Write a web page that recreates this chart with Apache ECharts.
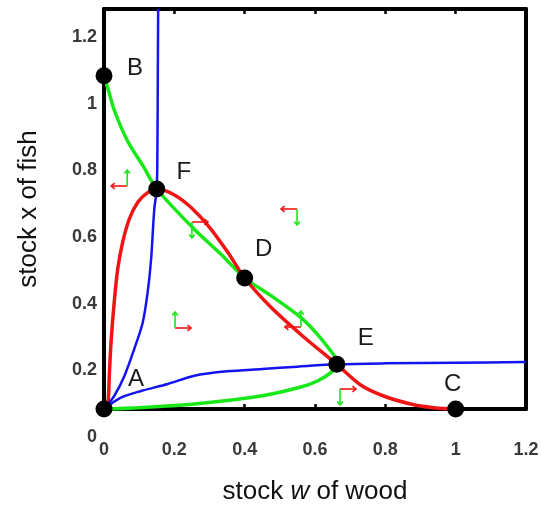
<!DOCTYPE html>
<html>
<head>
<meta charset="utf-8">
<script src="https://cdn.jsdelivr.net/npm/echarts@6/dist/echarts.min.js"></script>
<style>
  html, body { margin: 0; padding: 0; background: #fff; }
  #chart { width: 541px; height: 508px; }
</style>
</head>
<body>
<div id="chart"></div>
<script>
// Curves in the (wood w, fish x) plane, each as [w, x] pairs
const redCurve = [
  [0, 0], [0.011, 0.02], [0.015, 0.1], [0.02, 0.2], [0.029, 0.32], [0.039, 0.42],
  [0.053, 0.5], [0.072, 0.57], [0.096, 0.62], [0.124, 0.649], [0.15, 0.66],
  [0.199, 0.643], [0.247, 0.605], [0.3, 0.545], [0.352, 0.47], [0.4, 0.393],
  [0.474, 0.306], [0.568, 0.216], [0.662, 0.134], [0.73, 0.072], [0.795, 0.039],
  [0.872, 0.015], [0.943, 0.003], [1, 0]
];
const greenCurve = [
  [0, 1], [0.011, 0.962], [0.03, 0.894], [0.067, 0.804], [0.114, 0.724], [0.15, 0.66],
  [0.256, 0.54], [0.332, 0.465], [0.4, 0.393], [0.475, 0.34], [0.56, 0.274],
  [0.607, 0.224], [0.645, 0.174], [0.659, 0.153], [0.662, 0.134], [0.645, 0.109],
  [0.607, 0.084], [0.56, 0.066], [0.446, 0.039], [0.256, 0.015], [0.1, 0.004], [0, 0]
];
const blueCurveSteep = [
  [0, 0], [0.029, 0.039], [0.058, 0.099], [0.086, 0.18], [0.11, 0.259], [0.124, 0.349],
  [0.134, 0.45], [0.143, 0.6], [0.15, 0.66], [0.152, 0.8], [0.153, 1.0], [0.154, 1.2]
];
const blueCurveFlat = [
  [0, 0], [0.048, 0.034], [0.105, 0.054], [0.181, 0.075], [0.257, 0.1], [0.35, 0.113],
  [0.45, 0.12], [0.55, 0.127], [0.662, 0.134], [0.8, 0.137], [1.0, 0.139], [1.2, 0.141]
];

// Equilibrium points
const pointNames = ['A', 'B', 'C', 'D', 'E', 'F'];
const pointW = [0, 0, 1, 0.4, 0.662, 0.15];
const pointX = [0, 1, 0, 0.393, 0.134, 0.66];

// Direction-of-flow markers: [w, x, sign of dw/dt, sign of dx/dt]
const flowArrows = [
  [0.066, 0.669, -1, 1],
  [0.250, 0.561, 1, -1],
  [0.549, 0.600, -1, -1],
  [0.202, 0.243, 1, 1],
  [0.560, 0.246, -1, 1],
  [0.671, 0.060, 1, -1]
];

// Label placement around each point (pixels)
const labelShift = { A: [32, -30], B: [31, -7], C: [-3, -25], D: [19, -29], E: [29, -26], F: [27, -17] };

const RED = '#f01414', GREEN = '#18e818', BLUE = '#1414f0';
const FONT = 'Liberation Sans, Arial, sans-serif';

const chart = echarts.init(document.getElementById('chart'), null, { renderer: 'canvas' });

const tickLabel = { fontFamily: FONT, fontSize: 18, fontWeight: 'bold', color: '#3a3a3a' };

function curve(data, color, width) {
  return {
    type: 'line', data: data, showSymbol: false, smooth: 0.3, clip: false,
    lineStyle: { color: color, width: width }, z: 3, silent: true
  };
}

chart.setOption({
  animation: false,
  backgroundColor: '#fff',
  grid: { left: 104, right: 15, top: 9, bottom: 99, show: false, outerBoundsMode: 'none' },
  xAxis: [{
    type: 'value', min: 0, max: 1.2, interval: 0.2, position: 'bottom',
    splitLine: { show: false },
    axisLine: { show: true, onZero: false, lineStyle: { color: '#000', width: 4 } },
    axisTick: { show: true, inside: true, length: 5, lineStyle: { color: '#000', width: 2.5 } },
    axisLabel: Object.assign({ margin: 32, showMinLabel: true, showMaxLabel: true }, tickLabel),
    name: 'stock {i|w} of wood', nameLocation: 'middle', nameGap: 70,
    nameTextStyle: {
      fontFamily: FONT, fontSize: 26, color: '#111',
      rich: { i: { fontFamily: FONT, fontSize: 26, fontStyle: 'italic', color: '#111' } }
    }
  }, {
    type: 'value', min: 0, max: 1.2, interval: 0.2, position: 'top',
    splitLine: { show: false },
    axisLine: { show: true, onZero: false, lineStyle: { color: '#000', width: 4 } },
    axisTick: { show: true, inside: true, length: 5, lineStyle: { color: '#000', width: 2.5 } },
    axisLabel: { show: false }
  }],
  yAxis: [{
    type: 'value', min: 0, max: 1.2, interval: 0.2, position: 'left',
    splitLine: { show: false },
    axisLine: { show: true, onZero: false, lineStyle: { color: '#000', width: 4 } },
    axisTick: { show: false },
    // tick labels hang below their ticks: top-aligned in a tall line box
    axisLabel: Object.assign({
      margin: 7, verticalAlign: 'top', lineHeight: 56,
      showMinLabel: true, showMaxLabel: true, hideOverlap: false
    }, tickLabel),
    name: 'stock x of fish', nameLocation: 'middle', nameGap: 62,
    nameTextStyle: { fontFamily: FONT, fontSize: 26, color: '#111' }
  }, {
    type: 'value', min: 0, max: 1.2, interval: 0.2, position: 'right',
    splitLine: { show: false },
    axisLine: { show: true, onZero: false, lineStyle: { color: '#000', width: 4 } },
    axisTick: { show: false },
    axisLabel: { show: false }
  }],
  series: [
    curve(greenCurve, GREEN, 3.5),
    curve(redCurve, RED, 3.5),
    curve(blueCurveSteep, BLUE, 2.5),
    curve(blueCurveFlat, BLUE, 2.5),
    {
      type: 'custom', z: 4, silent: true,
      data: flowArrows,
      encode: { x: 0, y: 1 },
      renderItem: function (params, api) {
        const p = api.coord([api.value(0), api.value(1)]);
        const dw = api.value(2), dx = api.value(3);
        const L = 16, h = 3.5;
        const rx = p[0] + dw * L;
        const gy = p[1] - dx * L;
        const st = function (c) { return { stroke: c, lineWidth: 1.6, fill: null }; };
        return {
          type: 'group',
          children: [
            { type: 'polyline', shape: { points: [[p[0], p[1]], [rx, p[1]]] }, style: st(RED) },
            { type: 'polyline', shape: { points: [[rx - dw * h, p[1] - h * 0.8], [rx, p[1]], [rx - dw * h, p[1] + h * 0.8]] }, style: st(RED) },
            { type: 'polyline', shape: { points: [[p[0], p[1]], [p[0], gy]] }, style: st(GREEN) },
            { type: 'polyline', shape: { points: [[p[0] - h * 0.8, gy + dx * h], [p[0], gy], [p[0] + h * 0.8, gy + dx * h]] }, style: st(GREEN) }
          ]
        };
      }
    },
    {
      type: 'scatter', z: 5, clip: false, silent: true,
      symbol: 'circle', symbolSize: 17,
      itemStyle: { color: '#000', opacity: 1 },
      data: pointNames.map(function (n, i) {
        return { name: n, value: [pointW[i], pointX[i]], label: { offset: labelShift[n] } };
      }),
      label: {
        show: true, position: 'inside', formatter: '{b}',
        fontFamily: FONT, fontSize: 24, color: '#1a1a1a'
      }
    }
  ]
});
</script>
</body>
</html>
